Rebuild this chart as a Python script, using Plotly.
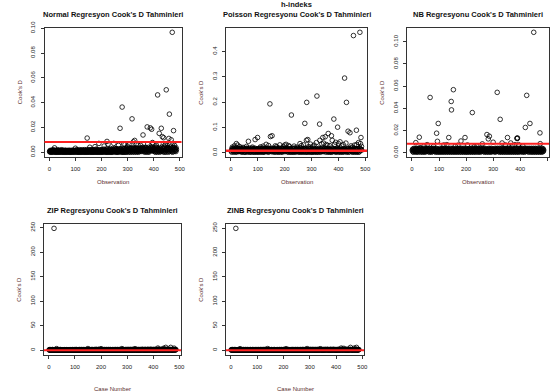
import plotly.graph_objects as go

# ---------------- data ----------------
# Baseline Cook's D values, one digit per observation (digit * unit)
normal_unit = 0.0005
normal_base = [
    "1203120213 0312403121 2013021302 1402130213 0213120412",
    "0213021203 1302120312 0213201302 1203120213 3102130214",
    "2130413021 0312041302 1302140213 2031402130 2140312041",
    "3102140312 0413021403 1204130215 0314021305 1402130412",
    "2041302150 3140213051 4021305142 0316041302 1503140216",
    "3150426031 5042603152 0631504260 3150726031 5042603172",
    "4250631740 2563174025 6317402563 1740256317 4025631740",
    "2563174825 6317402583 1740256318 4025631748 2563174025",
    "6317402583 1740256318 7402563174 8256317402 5831740256",
    "3187402563 1748256317 4025831740 2563174",
]
normal_out = {471: 0.0967, 448: 0.0503, 415: 0.0462, 460: 0.0307, 279: 0.0364, 317: 0.0269,
              271: 0.0193, 375: 0.0204, 387: 0.0196, 392: 0.0185, 429: 0.0193, 421: 0.0152,
              359: 0.0139, 476: 0.0174, 433: 0.0125, 438: 0.0117, 458: 0.0111, 467: 0.0100,
              145: 0.0114, 221: 0.0087, 327: 0.0095, 322: 0.0084, 473: 0.0071, 190: 0.0071,
              247: 0.0071, 225: 0.0065, 285: 0.0065, 333: 0.0065, 377: 0.0065, 395: 0.0078,
              398: 0.0072, 340: 0.0058, 350: 0.0055, 305: 0.0060, 290: 0.0062, 410: 0.0058,
              445: 0.0060, 452: 0.0056, 462: 0.0062, 175: 0.0045, 155: 0.0040, 210: 0.0050,
              265: 0.0055, 300: 0.0048, 420: 0.0068, 440: 0.0050, 480: 0.0055, 20: 0.0035,
              100: 0.0032}

poisson_unit = 0.002
poisson_base = [
    "3518264937 1528364917 2638194527 3816492735 1826394751",
    "2714836295 1837264915 2736185942 7163825194 3726158394",
    "1827364915 2836471925 3618274953 1728364915 2837461952",
    "3716284953 1827364912 7384615293 8271645392 1738264951",
    "2837164952 3718264951 8273641953 7182649351 2837164925",
    "3817264953 1728364915 2836471925 3618274953 1728364915",
    "2714836295 1837264915 2736185942 7163825194 3726158394",
    "3518264937 1528364917 2638194527 3816492735 1826394751",
    "1827364915 2836471925 3618274953 1728364915 2837461952",
    "3716284953 1827364912 7384615293 8271645",
]
poisson_out = {480: 0.476, 456: 0.463, 423: 0.295, 430: 0.199, 320: 0.224, 282: 0.199,
               145: 0.193, 225: 0.149, 275: 0.116, 330: 0.113, 383: 0.133, 397: 0.101,
               467: 0.089, 436: 0.085, 443: 0.079, 153: 0.067, 147: 0.064, 99: 0.060,
               90: 0.052, 65: 0.045, 484: 0.060, 374: 0.067, 351: 0.063, 342: 0.060,
               362: 0.076, 331: 0.049, 286: 0.052, 281: 0.049, 377: 0.049, 406: 0.043,
               318: 0.040, 257: 0.036, 205: 0.033, 20: 0.036, 13: 0.027, 131: 0.033,
               165: 0.027, 182: 0.031, 360: 0.029, 386: 0.033, 482: 0.036, 468: 0.032,
               5: 0.022, 25: 0.030, 33: 0.024, 45: 0.021, 58: 0.025, 80: 0.022, 110: 0.023,
               120: 0.026, 140: 0.028, 170: 0.024, 195: 0.025, 200: 0.030, 215: 0.028,
               218: 0.024, 235: 0.026, 245: 0.022, 262: 0.028, 270: 0.031, 290: 0.024,
               296: 0.034, 305: 0.026, 310: 0.030, 338: 0.035, 345: 0.038, 355: 0.032,
               368: 0.028, 390: 0.041, 400: 0.036, 412: 0.027, 418: 0.032, 428: 0.038,
               447: 0.027, 452: 0.022, 460: 0.030, 475: 0.040, 486: 0.025}

nb_unit = 0.0005
nb_base = [
    "4627153846 2735184627 3518462739 5184627351 8462735184",
    "6273518462 7351846273 5184627351 8462735184 6273518462",
    "3518462735 1846273518 4627351846 2735184627 3518462735",
    "1846273518 4627351846 2735184627 3518462735 1846273518",
    "7351846273 5184627351 8462735184 6273518462 7351846273",
    "5184627351 8462735184 6273518462 7351846273 5184627351",
    "4627351846 2735184627 3518462735 1846273518 4627351846",
    "2735184627 3518462735 1846273518 4627351846 2735184627",
    "8462735184 6273518462 7351846273 5184627351 8462735184",
    "6273518462 7351846273 5184627351 8462735",
]
nb_out = {450: 0.1085, 67: 0.0498, 153: 0.0568, 145: 0.0462, 146: 0.0386, 223: 0.0362,
          315: 0.0544, 326: 0.0301, 424: 0.0517, 436: 0.0264, 419: 0.0228, 473: 0.0179,
          97: 0.0264, 91: 0.0176, 27: 0.0140, 136: 0.0137, 196: 0.0137, 181: 0.0106,
          94: 0.0103, 14: 0.0091, 282: 0.0125, 277: 0.0164, 286: 0.0149, 353: 0.0137,
          388: 0.0131, 389: 0.0128, 390: 0.0133, 333: 0.0088, 365: 0.0088, 381: 0.0073,
          394: 0.0073, 474: 0.0082, 56: 0.0073, 118: 0.0070, 129: 0.0073, 260: 0.0080,
          300: 0.0095, 345: 0.0070, 372: 0.0065, 410: 0.0060, 205: 0.0070, 170: 0.0068,
          240: 0.0060, 160: 0.0060, 45: 0.0062, 80: 0.0058, 230: 0.0055}

zip_unit = 0.3
zip_base = [
    "2130412031 2013421023 1204132012 3140231021 3012403121",
    "0213021203 1302120312 0213201302 1203120213 3102130214",
    "2130413021 0312041302 1302140213 2031402130 2140312041",
    "3102140312 0413021403 1204130215 0314021305 1402130412",
    "2041302130 3140213021 4021302142 0313041302 1303140213",
    "3130423031 2042303132 0431204230 3130423031 2042303142",
    "4230431240 2343124023 4312402343 1240234312 4023431240",
    "2343124523 4312402353 1240234315 4023431245 2343124023",
    "4312402353 1240234315 4402343124 5234312402 5351240234",
    "3154402343 1245234312 4023531240 2343124",
]
zip_out = {20: 248.6, 418: 4.2, 448: 5.6, 467: 5.6, 30: 3.0, 150: 3.2, 200: 3.0,
           280: 3.1, 330: 3.0, 440: 3.8, 480: 4.0}

zinb_unit = 0.3
zinb_base = [
    "1302130412 0312401321 2013021302 1402130213 0213120412",
    "2130412031 2013421023 1204132012 3140231021 3012403121",
    "3102140312 0413021403 1204130215 0314021305 1402130412",
    "2130413021 0312041302 1302140213 2031402130 2140312041",
    "3140213021 2041302130 4021302142 0313041302 1303140213",
    "2042303132 3130423031 0431204230 3130423031 2042303142",
    "2343124023 4230431240 4312402343 1240234312 4023431240",
    "4312402353 2343124523 1240234315 4023431245 2343124023",
    "1240234315 4312402353 4402343124 5234312402 5351240234",
    "1245234312 3154402343 4023531240 2343124",
]
zinb_out = {19: 249.5, 420: 4.2, 455: 5.6, 478: 5.6, 35: 3.0, 140: 3.1, 210: 3.0,
            290: 3.2, 340: 2.9, 430: 3.6, 470: 4.2}

titles = ["Normal Regresyon Cook's D Tahminleri",
          "Poisson Regresyonu Cook's D Tahminleri",
          "NB Regresyonu Cook's D Tahminleri",
          "ZIP Regresyonu Cook's D Tahminleri",
          "ZINB Regresyonu Cook's D Tahminleri"]
x_titles = ["Observation", "Observation", "Observation", "Case Number", "Case Number"]
y_title = "Cook's D"
main_title = "h-indeks"
cutoffs = [0.0082, 0.0082, 0.0082, 0.0082, 0.0082]
x_ticks = [0, 100, 200, 300, 400, 500]
y_ticks = [[0.00, 0.02, 0.04, 0.06, 0.08, 0.10],
           [0.0, 0.1, 0.2, 0.3, 0.4],
           [0.00, 0.02, 0.04, 0.06, 0.08, 0.10],
           [0, 50, 100, 150, 200, 250],
           [0, 50, 100, 150, 200, 250]]
y_fmt = [".2f", ".1f", ".2f", "d", "d"]

# ---------------- build series ----------------
def build(base, unit, out):
    digits = "".join(base).replace(" ", "")
    y = [int(c) * unit for c in digits]
    for k, v in out.items():
        if 1 <= k <= len(y):
            y[k - 1] = v
    x = list(range(1, len(y) + 1))
    return x, y

series = [build(normal_base, normal_unit, normal_out),
          build(poisson_base, poisson_unit, poisson_out),
          build(nb_base, nb_unit, nb_out),
          build(zip_base, zip_unit, zip_out),
          build(zinb_base, zinb_unit, zinb_out)]

# ---------------- layout (pixel boxes) ----------------
W, H = 552, 391
boxes = [(44.5, 181.5, 27.5, 157.0),
         (226.0, 367.0, 27.5, 157.0),
         (407.0, 549.0, 27.5, 157.0),
         (44.0, 181.0, 223.5, 355.0),
         (226.0, 364.0, 223.5, 355.0)]
title_y = [14.5, 14.5, 14.5, 210, 210]
xlab_y = [182, 182, 182, 388.5, 388.5]

FONT = "Liberation Sans, Arial, sans-serif"
TXT = "#222222"
LAB = "#5a2d2d"

fig = go.Figure()
annotations = []
shapes = []

for i, ((x, y), (l, r, t, b)) in enumerate(zip(series, boxes)):
    ax = "" if i == 0 else str(i + 1)
    fig.add_trace(go.Scatter(
        x=x, y=y, mode="markers", xaxis="x" + ax, yaxis="y" + ax,
        marker=dict(symbol="circle-open", size=4.6, color="black",
                    line=dict(width=0.8, color="black")),
        showlegend=False, hoverinfo="skip"))
    n = len(x)
    xr = [1 - 0.04 * (n - 1), n + 0.04 * (n - 1)]
    ymin, ymax = min(y), max(y)
    pad = 0.04 * (ymax - ymin)
    yr = [ymin - pad, ymax + pad]
    common = dict(showline=True, mirror=True, linecolor="#333333", linewidth=1,
                  showgrid=False, zeroline=False, ticks="outside", ticklen=3,
                  tickcolor="#333333", tickwidth=1, ticklabelstandoff=3,
                  automargin=False,
                  tickfont=dict(family=FONT, size=6, color=TXT))
    fig.layout["xaxis" + ax] = dict(
        domain=[l / W, r / W], range=xr, anchor="y" + ax,
        tickmode="array", tickvals=x_ticks, **common)
    fig.layout["yaxis" + ax] = dict(
        domain=[1 - b / H, 1 - t / H], range=yr, anchor="x" + ax,
        tickmode="array", tickvals=y_ticks[i], tickformat=y_fmt[i],
        tickangle=-90, **common)
    shapes.append(dict(type="line", xref="x" + ax + " domain", yref="y" + ax,
                       x0=0, x1=1, y0=cutoffs[i], y1=cutoffs[i],
                       line=dict(color="#ff2020", width=2.5 if i == 1 else 2),
                       layer="above"))
    cx = (l + r) / 2 / W
    annotations.append(dict(text="<b>" + titles[i] + "</b>", xref="paper", yref="paper",
                            x=cx, y=1 - title_y[i] / H, showarrow=False,
                            xanchor="center", yanchor="middle",
                            font=dict(family=FONT, size=7.5, color="#111111")))
    annotations.append(dict(text=x_titles[i], xref="paper", yref="paper",
                            x=cx, y=1 - xlab_y[i] / H, showarrow=False,
                            xanchor="center", yanchor="middle",
                            font=dict(family=FONT, size=6, color=LAB)))
    annotations.append(dict(text=y_title, xref="paper", yref="paper",
                            x=(l - 24.5) / W, y=1 - (t + b) / 2 / H, showarrow=False,
                            textangle=-90, xanchor="center", yanchor="middle",
                            font=dict(family=FONT, size=6, color=LAB)))

annotations.append(dict(text="<b>" + main_title + "</b>", xref="paper", yref="paper",
                        x=297 / W, y=1 - 4.5 / H, showarrow=False,
                        xanchor="center", yanchor="middle",
                        font=dict(family=FONT, size=7.5, color="#111111")))

fig.update_layout(width=W, height=H, autosize=False,
                  margin=dict(l=0, r=0, t=0, b=0, pad=0, autoexpand=False),
                  paper_bgcolor="white", plot_bgcolor="white",
                  annotations=annotations, shapes=shapes)

# remove the browser's default 8px page margin so the 552x391 figure fills the window
fig.write_html("out.html",
               config={"displayModeBar": False},
               post_script="document.body.style.margin='0';document.body.style.overflow='hidden';")
